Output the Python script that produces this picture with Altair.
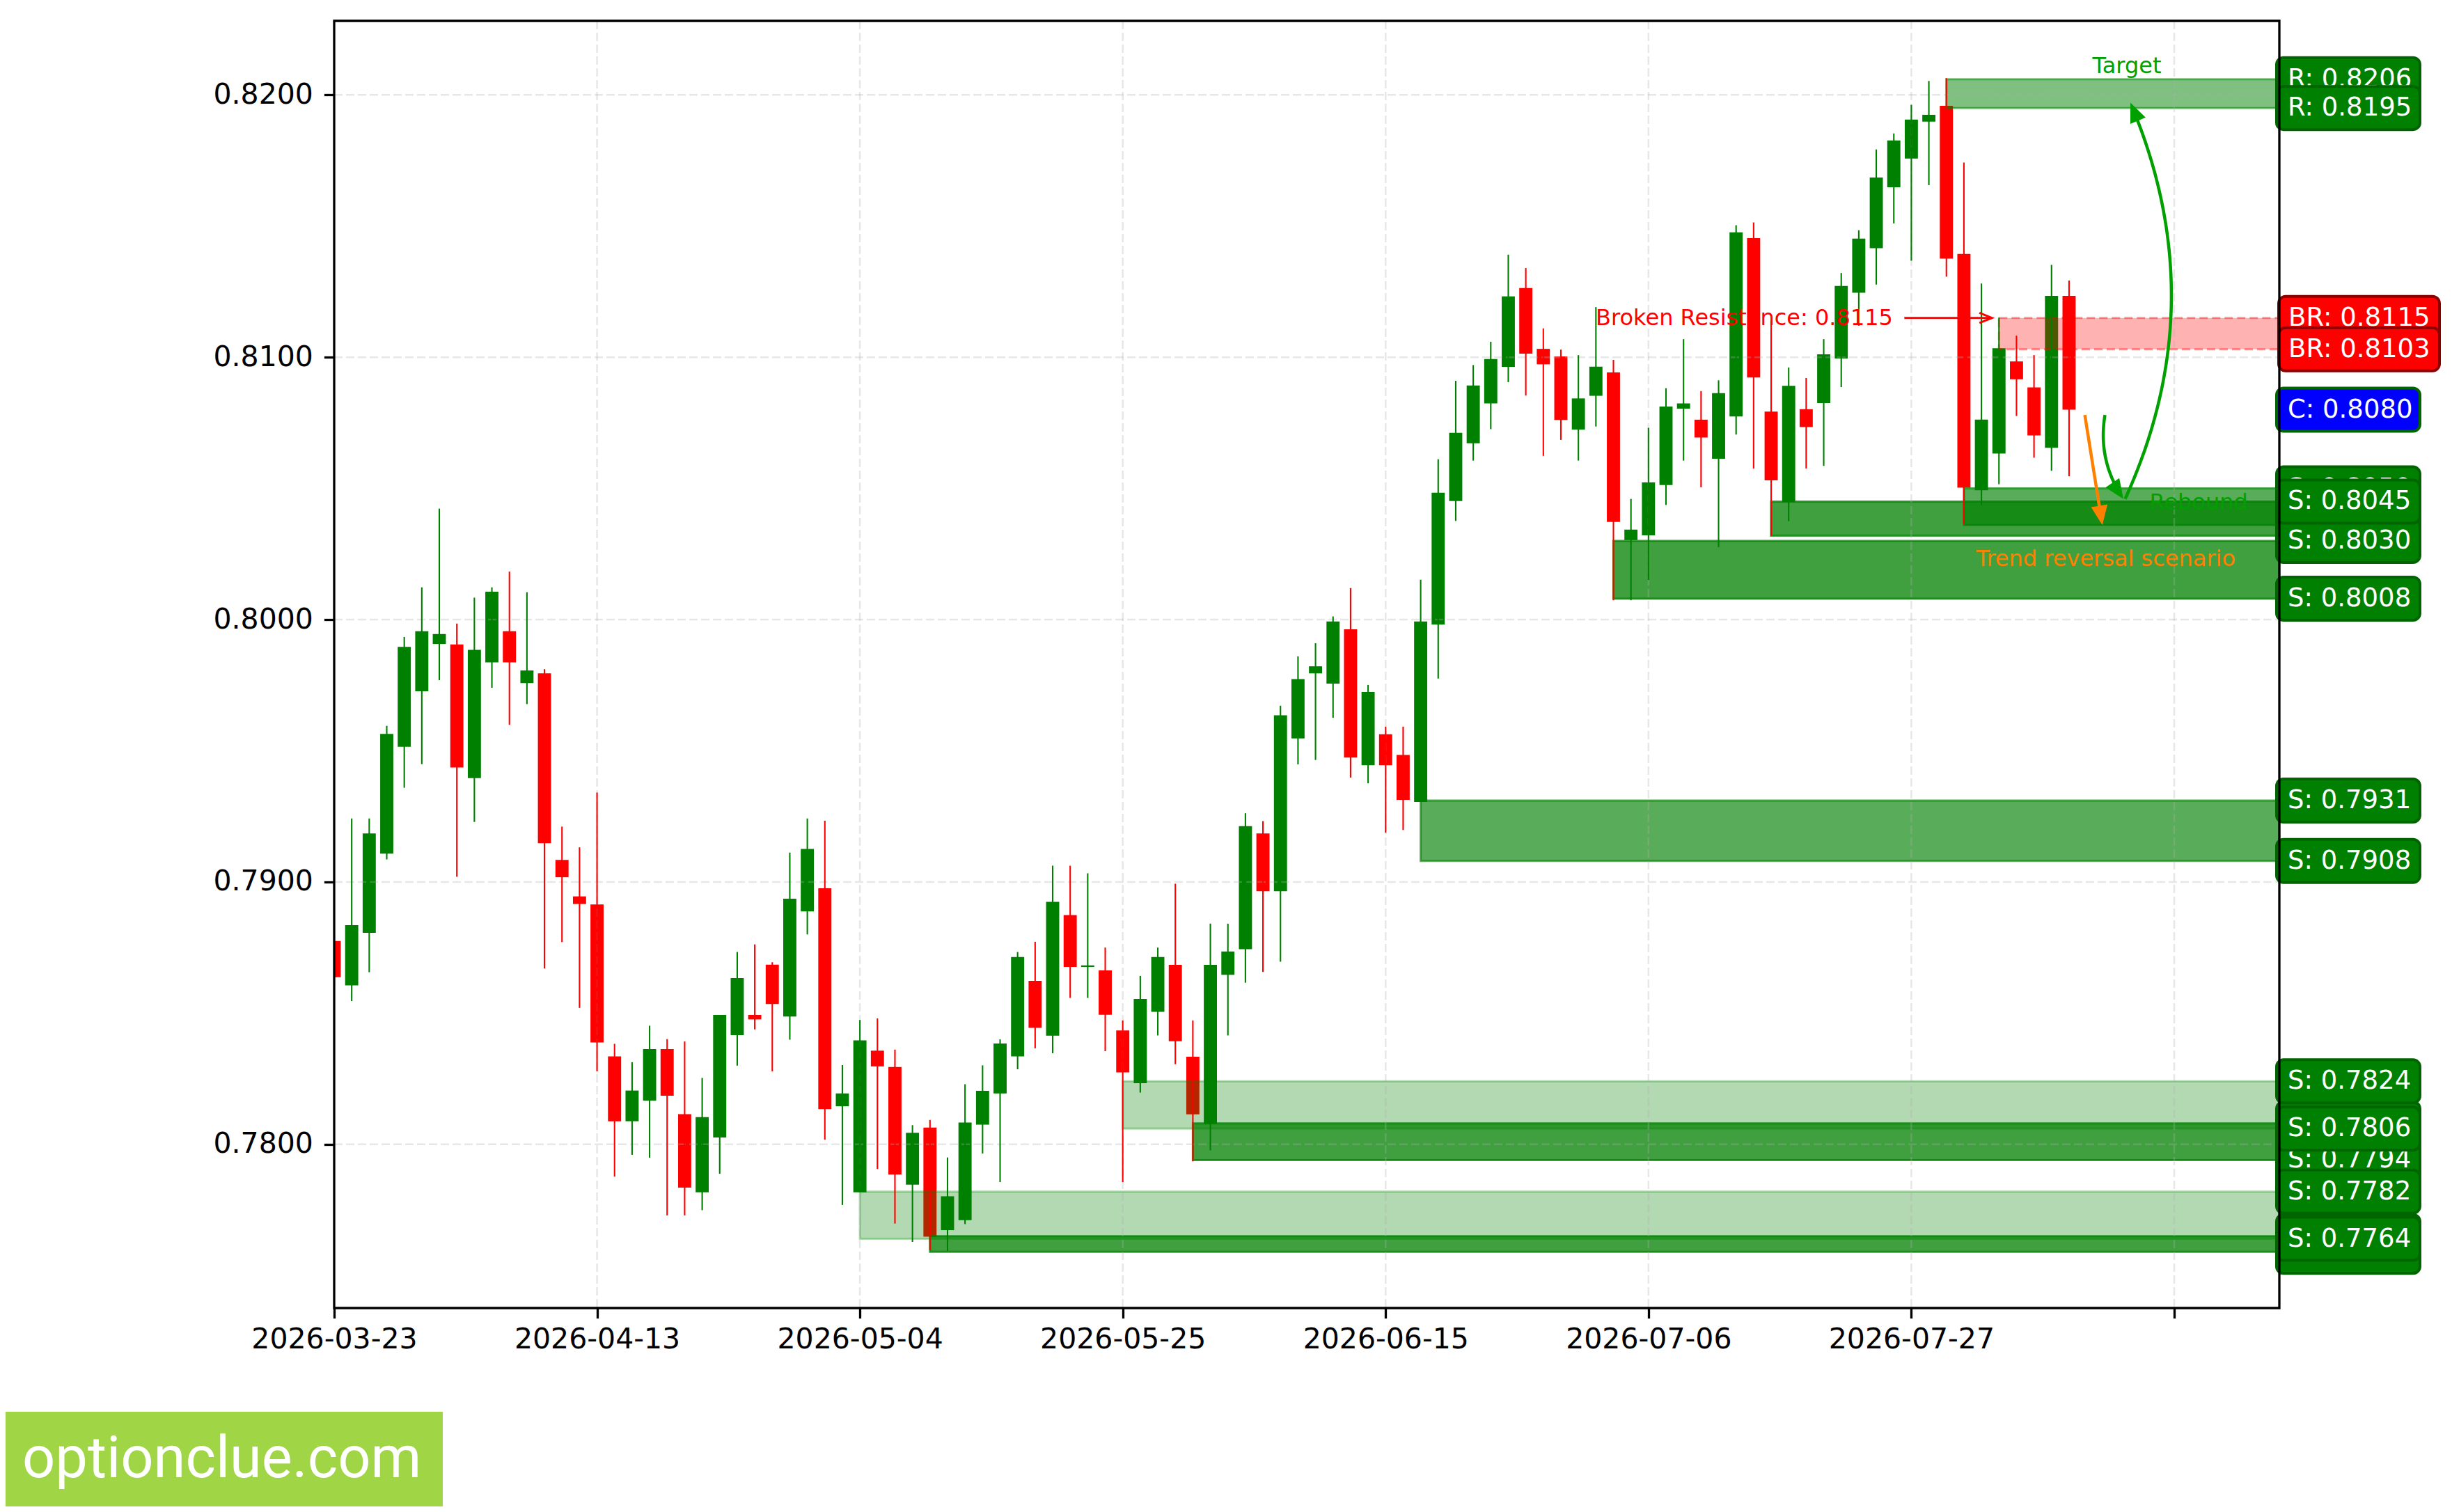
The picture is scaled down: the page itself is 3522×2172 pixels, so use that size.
import math
import altair as alt
import pandas as pd

# ---------------- data ----------------
opens = [0.78775,0.78606,0.78806,0.79108,0.79515,0.79727,0.79907,0.79905,0.79396,0.79837,
0.79956,0.79758,0.79795,0.79084,0.78945,0.78914,0.78335,0.78088,0.78167,0.78363,
0.78115,0.77817,0.78026,0.78416,0.78493,0.78685,0.78487,0.78888,0.78976,0.78145,
0.77817,0.78357,0.78295,0.77846,0.78064,0.77673,0.77711,0.78075,0.78194,0.78335,
0.78623,0.78414,0.78874,0.78676,0.78663,0.78434,0.78233,0.78505,0.78684,0.78334,
0.78079,0.78646,0.78744,0.79185,0.78965,0.79547,0.79795,0.79756,0.79963,0.79445,
0.79563,0.79484,0.79305,0.79981,0.80452,0.80672,0.80824,0.80963,0.81264,0.81032,
0.81003,0.80724,0.80853,0.80942,0.80303,0.80321,0.80513,0.80804,0.80762,0.80613,
0.80774,0.81454,0.80793,0.80447,0.80802,0.80825,0.80995,0.81246,0.81416,0.81648,
0.81757,0.81898,0.81958,0.81394,0.80493,0.80633,0.80984,0.80885,0.80655,0.81234]

highs = [0.78800,0.79242,0.79242,0.79595,0.79934,0.80123,0.80423,0.79985,0.80084,0.80123,
0.80183,0.80104,0.79811,0.79211,0.79132,0.79341,0.78383,0.78313,0.78452,0.78401,
0.78392,0.78253,0.78493,0.78733,0.78762,0.78694,0.79112,0.79242,0.79233,0.78302,
0.78474,0.78480,0.78361,0.78073,0.78093,0.77950,0.78229,0.78301,0.78400,0.78733,
0.78772,0.79062,0.79062,0.79033,0.78750,0.78472,0.78642,0.78750,0.78993,0.78472,
0.78841,0.78841,0.79262,0.79232,0.79672,0.79860,0.79910,0.80012,0.80120,0.79751,
0.79592,0.79592,0.80152,0.80611,0.80910,0.80970,0.81059,0.81391,0.81340,0.81110,
0.81029,0.81008,0.81191,0.80990,0.80460,0.80731,0.80882,0.81069,0.80871,0.80912,
0.81503,0.81514,0.81140,0.80961,0.80921,0.81069,0.81321,0.81484,0.81792,0.81853,
0.81962,0.82053,0.82064,0.81742,0.81281,0.81151,0.81082,0.81008,0.81352,0.81292]

lows = [0.78600,0.78546,0.78656,0.79086,0.79359,0.79449,0.79769,0.79020,0.79229,0.79740,
0.79599,0.79678,0.78670,0.78771,0.78520,0.78278,0.77877,0.77960,0.77949,0.77729,
0.77729,0.77749,0.77888,0.78300,0.78438,0.78278,0.78399,0.78800,0.78018,0.77769,
0.77817,0.77906,0.77698,0.77628,0.77597,0.77594,0.77696,0.77965,0.77856,0.78286,
0.78366,0.78347,0.78558,0.78558,0.78355,0.77856,0.78197,0.78415,0.78305,0.77935,
0.77977,0.78415,0.78616,0.78657,0.78696,0.79448,0.79465,0.79626,0.79398,0.79376,
0.79188,0.79198,0.79305,0.79775,0.80376,0.80606,0.80726,0.80905,0.80854,0.80624,
0.80685,0.80606,0.80736,0.80074,0.80074,0.80151,0.80437,0.80606,0.80504,0.80276,
0.80705,0.80576,0.80318,0.80375,0.80576,0.80586,0.80886,0.81120,0.81277,0.81510,
0.81368,0.81656,0.81307,0.80364,0.80436,0.80516,0.80776,0.80617,0.80567,0.80546]

closes = [0.78637,0.78835,0.79185,0.79564,0.79896,0.79956,0.79945,0.79436,0.79885,0.80106,
0.79837,0.79806,0.79148,0.79018,0.78916,0.78388,0.78088,0.78205,0.78363,0.78185,
0.77835,0.78104,0.78493,0.78634,0.78476,0.78535,0.78936,0.79126,0.78134,0.78194,
0.78396,0.78297,0.77885,0.78044,0.77648,0.77802,0.78083,0.78204,0.78384,0.78714,
0.78444,0.78924,0.78676,0.78682,0.78494,0.78274,0.78554,0.78714,0.78393,0.78114,
0.78684,0.78735,0.79213,0.78965,0.79635,0.79773,0.79822,0.79993,0.79474,0.79724,
0.79445,0.79313,0.79993,0.80484,0.80712,0.80892,0.80993,0.81232,0.81014,0.80973,
0.80761,0.80843,0.80964,0.80372,0.80343,0.80523,0.80812,0.80824,0.80694,0.80863,
0.81476,0.80923,0.80531,0.80891,0.80734,0.81011,0.81272,0.81452,0.81685,0.81826,
0.81906,0.81924,0.81376,0.80503,0.80762,0.81034,0.80916,0.80702,0.81234,0.80800]

x_ticks = [0, 15, 30, 45, 60, 75, 90, 105]
x_tick_labels = ["2026-03-23", "2026-04-13", "2026-05-04", "2026-05-25",
                 "2026-06-15", "2026-07-06", "2026-07-27", ""]
y_ticks = [0.78, 0.79, 0.80, 0.81, 0.82]

# support / resistance zones (start bar, top, bottom, opacity)
zone_start = [30, 34, 45, 49, 62, 73, 82, 93, 92]
zone_top = [0.7782, 0.7765, 0.7824, 0.7808, 0.7931, 0.8030, 0.8045, 0.8050, 0.8206]
zone_bot = [0.7764, 0.7759, 0.7806, 0.7794, 0.7908, 0.8008, 0.8032, 0.8036, 0.8195]
zone_alpha = [0.30, 0.75, 0.30, 0.75, 0.65, 0.75, 0.75, 0.65, 0.50]

br_start = [95]
br_top = [0.8115]
br_bot = [0.8103]

# right-hand price labels, in drawing order
label_kind = ["S", "S", "S", "S", "S", "S", "S", "S", "S", "S", "S",
              "S", "S", "S", "S", "S", "R", "R", "BR", "BR", "C"]
label_value = [0.7759, 0.7765, 0.7764, 0.7794, 0.7808, 0.7782, 0.7806, 0.7824,
               0.7908, 0.7931, 0.8008, 0.8036, 0.8032, 0.8030, 0.8050, 0.8045,
               0.8206, 0.8195, 0.8115, 0.8103, 0.8080]

# annotations
ann_text = ["Broken Resistance: 0.8115", "Target", "Rebound", "Trend reversal scenario"]
ann_x = [88.95, 102.3, 106.4, 101.1]
ann_y = [0.8115, 0.8211, 0.80445, 0.8023]
ann_color = ["#ff0000", "#00a000", "#00a000", "#ff8000"]
ann_align = ["right", "center", "center", "center"]

arrow_start = [(101.05, 0.8078), (102.2, 0.8046), (99.9, 0.8078)]
arrow_end = [(102.1, 0.8046), (102.5, 0.8197), (100.9, 0.8036)]
arrow_rad = [0.2, 0.22, 0.0]
arrow_color = ["#00a000", "#00a000", "#ff8000"]

br_arrow_start = (89.6, 0.8115)
br_arrow_end = (94.6, 0.8115)

# ---------------- layout ----------------
W, H = 2794, 1849
X_DOMAIN = [0, 111]
Y_DOMAIN = [0.77376, 0.82282]
SPAN = Y_DOMAIN[1] - Y_DOMAIN[0]
FONT = "DejaVu Sans"

xs = alt.Scale(domain=X_DOMAIN, nice=False, zero=False)
ys = alt.Scale(domain=Y_DOMAIN, nice=False, zero=False)

labels_js = "[" + ",".join("'%s'" % s for s in x_tick_labels) + "]"
ticks_js = "[" + ",".join(str(v) for v in x_ticks) + "]"
X_AX = alt.Axis(values=x_ticks, labelExpr=f"{labels_js}[indexof({ticks_js}, datum.value)]",
                title=None, grid=False, domain=False, tickSize=14.6, tickWidth=3.3,
                tickColor="black", labelFontSize=41, labelFont=FONT, labelColor="black",
                labelPadding=11, labelFlush=False, labelOverlap=False, labelAngle=0,
                labelBound=False, labelLimit=0)
Y_AX = alt.Axis(values=y_ticks, format=".4f", title=None, grid=False, domain=False,
                tickSize=14.6, tickWidth=3.3, tickColor="black", labelFontSize=41,
                labelFont=FONT, labelColor="black", labelPadding=16, labelOverlap=False,
                labelFlush=False, labelBound=False, labelLimit=0)


def X(f):
    return alt.X(f, scale=xs, axis=X_AX)


def Y(f):
    return alt.Y(f, scale=ys, axis=Y_AX)


def to_px(i, p):
    return (i - X_DOMAIN[0]) / (X_DOMAIN[1] - X_DOMAIN[0]) * W, (Y_DOMAIN[1] - p) / SPAN * H


def to_data(x, y):
    return X_DOMAIN[0] + x / W * (X_DOMAIN[1] - X_DOMAIN[0]), Y_DOMAIN[1] - y / H * SPAN


def curve(start, end, rad, head_len, steps=120):
    x0, y0 = to_px(*start)
    x2, y2 = to_px(*end)
    dx, dy = x2 - x0, y2 - y0
    cx, cy = (x0 + x2) / 2 - rad * dy, (y0 + y2) / 2 + rad * dx
    pts = []
    for k in range(steps + 1):
        t = k / steps
        bx = (1 - t) ** 2 * x0 + 2 * (1 - t) * t * cx + t * t * x2
        by = (1 - t) ** 2 * y0 + 2 * (1 - t) * t * cy + t * t * y2
        if math.hypot(x2 - bx, y2 - by) < head_len * 0.6:
            break
        pts.append(to_data(bx, by))
    tx, ty = x2 - cx, y2 - cy
    ang = math.degrees(math.atan2(tx, -ty)) % 360
    return pts, ang


# ---------------- frames ----------------
n = len(opens)
cdf = pd.DataFrame({"i": list(range(n)), "o": opens, "h": highs, "l": lows, "c": closes})
cdf["x0"] = cdf["i"] - 0.375
cdf["x1"] = cdf["i"] + 0.375
cdf["bt"] = cdf[["o", "c"]].max(axis=1)
cdf["bb"] = cdf[["o", "c"]].min(axis=1)
cdf["col"] = ["#008000" if c >= o else "#ff0000" for o, c in zip(opens, closes)]

zdf = pd.DataFrame({"s": zone_start, "e": [X_DOMAIN[1]] * len(zone_start),
                    "top": zone_top, "bot": zone_bot, "a": zone_alpha})
bdf = pd.DataFrame({"s": br_start, "e": [X_DOMAIN[1]], "top": br_top, "bot": br_bot})

layers = []

# candle bodies
layers.append(alt.Chart(cdf).mark_rect(clip=True).encode(
    x=X("x0:Q"), x2="x1:Q", y=Y("bt:Q"), y2="bb:Q",
    fill=alt.Fill("col:N", scale=None)))

# zones
layers.append(alt.Chart(zdf).mark_rect(strokeWidth=3, fill="#008000", stroke="#008000").encode(
    x=X("s:Q"), x2="e:Q", y=Y("top:Q"), y2="bot:Q",
    fillOpacity=alt.FillOpacity("a:Q", scale=None),
    strokeOpacity=alt.StrokeOpacity("a:Q", scale=None)))

layers.append(alt.Chart(bdf).mark_rect(fill="#ff0000", fillOpacity=0.3, stroke="#ff0000",
                                       strokeOpacity=0.4, strokeDash=[12, 6],
                                       strokeWidth=3).encode(
    x=X("s:Q"), x2="e:Q", y=Y("top:Q"), y2="bot:Q"))

# grid
gx = pd.DataFrame({"v": x_ticks})
gy = pd.DataFrame({"v": y_ticks})
layers.append(alt.Chart(gx).mark_rule(color="#b0b0b0", opacity=0.3, strokeWidth=2.5,
                                      strokeDash=[12, 5]).encode(
    x=X("v:Q"), y=alt.value(0), y2=alt.value(H)))
layers.append(alt.Chart(gy).mark_rule(color="#b0b0b0", opacity=0.3, strokeWidth=2.5,
                                      strokeDash=[12, 5]).encode(
    y=Y("v:Q"), x=alt.value(0), x2=alt.value(W)))

# wicks
layers.append(alt.Chart(cdf).mark_rule(strokeWidth=2.1, clip=True).encode(
    x=X("i:Q"), y=Y("l:Q"), y2="h:Q", color=alt.Color("col:N", scale=None)))

# curved / straight arrows
HEAD = "M0,0L0.85,2L-0.85,2Z"
for st, en, rad, col in zip(arrow_start, arrow_end, arrow_rad, arrow_color):
    pts, ang = curve(st, en, rad, 28)
    adf = pd.DataFrame({"x": [p[0] for p in pts], "y": [p[1] for p in pts],
                        "k": list(range(len(pts)))})
    layers.append(alt.Chart(adf).mark_line(color=col, strokeWidth=4.5).encode(
        x=X("x:Q"), y=Y("y:Q"), order="k:Q"))
    hdf = pd.DataFrame({"x": [en[0]], "y": [en[1]]})
    layers.append(alt.Chart(hdf).mark_point(shape=HEAD, size=784, angle=ang, filled=True,
                                            color=col, opacity=1, strokeWidth=0).encode(
        x=X("x:Q"), y=Y("y:Q")))

# broken resistance arrow (open head)
pts, ang = curve(br_arrow_start, br_arrow_end, 0.0, 0)
bad = pd.DataFrame({"x": [br_arrow_start[0], br_arrow_end[0]],
                    "y": [br_arrow_start[1], br_arrow_end[1]], "k": [0, 1]})
layers.append(alt.Chart(bad).mark_line(color="#ff0000", strokeWidth=3).encode(
    x=X("x:Q"), y=Y("y:Q"), order="k:Q"))
layers.append(alt.Chart(pd.DataFrame({"x": [br_arrow_end[0]], "y": [br_arrow_end[1]]}))
              .mark_point(shape="M-0.8,2L0,0L0.8,2", size=324, angle=ang, filled=False,
                          color="#ff0000", opacity=1, strokeWidth=3).encode(
    x=X("x:Q"), y=Y("y:Q")))

# annotation texts
for t, x, y, col, al in zip(ann_text, ann_x, ann_y, ann_color, ann_align):
    tdf = pd.DataFrame({"x": [x], "y": [y], "t": [t]})
    layers.append(alt.Chart(tdf).mark_text(align=al, baseline="middle", fontSize=32,
                                           font=FONT, color=col).encode(
        x=X("x:Q"), y=Y("y:Q"), text="t:N"))

# right-hand price labels
STYLE = {"S": ("#008000", "#006400", -4, 202, 12),
         "R": ("#008000", "#006400", -4, 202, 12),
         "BR": ("#ff0000", "#8b0000", -1, 230, 13),
         "C": ("#0000ff", "#006400", -4, 202, 12)}
hh = 31 / H * SPAN
for kind, v in zip(label_kind, label_value):
    fill, edge, xa, xb, xt = STYLE[kind]
    d = pd.DataFrame({"v": [v], "hi": [v + hh], "lo": [v - hh], "t": [f"{kind}: {v:.4f}"]})
    layers.append(alt.Chart(d).mark_rect(cornerRadius=10, fill=fill, stroke=edge,
                                         strokeWidth=4).encode(
        x=alt.value(W + xa), x2=alt.value(W + xb), y=Y("hi:Q"), y2="lo:Q"))
    layers.append(alt.Chart(d).mark_text(align="left", baseline="middle", color="white",
                                         fontSize=37, font=FONT).encode(
        x=alt.value(W + xt), y=Y("v:Q"), text="t:N"))

# frame (spines)
one = pd.DataFrame({"a": [0]})
layers.append(alt.Chart(one).mark_rect(filled=False, stroke="black", strokeWidth=3.3).encode(
    x=alt.value(0), x2=alt.value(W), y=alt.value(0), y2=alt.value(H)))

# watermark
layers.append(alt.Chart(one).mark_rect(color="#a0d646").encode(
    x=alt.value(-472), x2=alt.value(156), y=alt.value(1998), y2=alt.value(2134)))
layers.append(alt.Chart(pd.DataFrame({"t": ["optionclue.com"]})).mark_text(
    align="left", baseline="alphabetic", color="white", fontSize=83, font="Roboto").encode(
    x=alt.value(-448), y=alt.value(2092), text="t:N"))

chart = alt.layer(*layers).properties(
    width=W, height=H,
    padding={"left": 472, "top": 22, "right": 240, "bottom": 285},
    autosize=alt.AutoSizeParams(type="none"),
).configure(font=FONT, background="white").configure_view(strokeWidth=0)

chart.save("out.html", embed_options={"renderer": "svg", "actions": False})
